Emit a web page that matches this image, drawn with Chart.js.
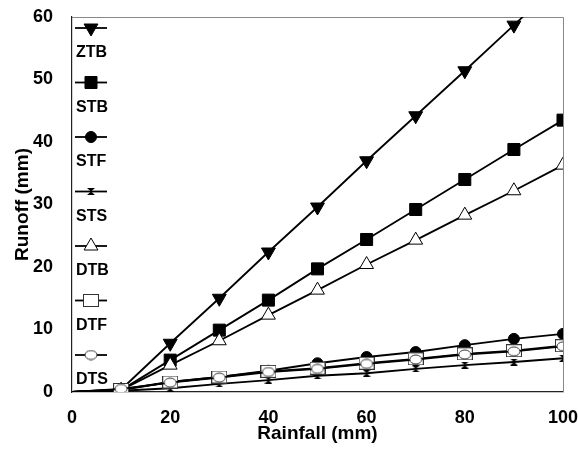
<!DOCTYPE html>
<html lang="en">
  <head>
    <meta charset="UTF-8" />
    <title>Runoff vs Rainfall</title>
    <style>
      html, body { margin: 0; padding: 0; background: #fff; }
      #wrap { width: 578px; height: 452px; }
    </style>
  </head>
  <body>
    <div id="wrap"><canvas id="myChart" width="578" height="452"></canvas></div>
    <script src="https://cdn.jsdelivr.net/npm/chart.js"></script>
    <script>
      // rainfall (mm); first point is the origin, drawn without a marker
      const rainfall = [0, 10, 20, 30, 40, 50, 60, 70, 80, 90, 100];
      const seriesNames = ["ZTB", "STB", "STF", "STS", "DTB", "DTF", "DTS"];
      const ztb = [0, 0.4, 7.8, 15.0, 22.4, 29.6, 37.0, 44.2, 51.4, 58.7, 66.0];
      const stb = [0, 0.3, 5.1, 9.9, 14.7, 19.7, 24.4, 29.2, 34.0, 38.8, 43.5];
      const stf = [0, 0.3, 1.6, 2.4, 3.4, 4.6, 5.6, 6.4, 7.5, 8.5, 9.3];
      const sts = [0, 0.2, 0.6, 1.3, 1.9, 2.6, 3.0, 3.7, 4.3, 4.8, 5.4];
      const dtb = [0, 0.3, 4.3, 8.2, 12.3, 16.3, 20.4, 24.3, 28.3, 32.2, 36.3];
      const dtf = [0, 0.4, 1.6, 2.4, 3.3, 3.8, 4.6, 5.3, 6.1, 6.6, 7.4];
      const dts = [0, 0.5, 1.5, 2.3, 3.2, 3.7, 4.5, 5.2, 6.0, 6.5, 7.3];
      const xTicks = [0, 20, 40, 60, 80, 100];
      const yTicks = [0, 10, 20, 30, 40, 50, 60];

      const ctx = document.getElementById("myChart").getContext("2d");
      const FONT = "'Liberation Sans', Arial, sans-serif";

      // small offscreen canvases for the markers chart.js has no shape for
      const makeMarker = (w, h, draw) => {
        const c = document.createElement("canvas");
        c.width = w;
        c.height = h;
        draw(c.getContext("2d"), w, h);
        return c;
      };
      const hourglass = makeMarker(8, 7, (g, w, h) => {
        g.fillStyle = "#000";
        g.beginPath();
        g.moveTo(0, 0);
        g.lineTo(w, 0);
        g.lineTo(0, h);
        g.lineTo(w, h);
        g.closePath();
        g.fill();
      });
      const openBox = makeMarker(16, 13, (g, w, h) => {
        g.fillStyle = "#fff";
        g.fillRect(0, 0, w, h);
        g.strokeStyle = "#333";
        g.lineWidth = 1;
        g.strokeRect(0.5, 0.5, w - 1, h - 1);
      });
      const openOval = makeMarker(14, 11, (g, w, h) => {
        g.fillStyle = "#fff";
        g.strokeStyle = "#333";
        g.lineWidth = 1;
        g.beginPath();
        g.ellipse(w / 2, h / 2, w / 2 - 1, h / 2 - 1, 0, 0, Math.PI * 2);
        g.fill();
        g.stroke();
      });

      // marker look per series
      const markers = [
        { style: "triangle", rotation: 180, radius: 8, fill: "#000" },
        { style: "rect", rotation: 0, radius: 8.5, fill: "#000" },
        { style: "circle", rotation: 0, radius: 5.5, fill: "#000" },
        { style: hourglass, rotation: 0, radius: 4, fill: "#000" },
        { style: "triangle", rotation: 0, radius: 8, fill: "#fff" },
        { style: openBox, rotation: 0, radius: 7, fill: "#fff" },
        { style: openOval, rotation: 0, radius: 6, fill: "#fff" },
      ];
      const values = [ztb, stb, stf, sts, dtb, dtf, dts];

      const datasets = seriesNames.map((name, i) => {
        const m = markers[i];
        return {
          label: name,
          data: rainfall.map((x, j) => ({ x: x, y: values[i][j] })),
          borderColor: "#000",
          borderWidth: 1.8,
          pointStyle: m.style,
          rotation: m.rotation,
          pointRadius: rainfall.map((x) => (x === 0 ? 0 : m.radius)),
          pointBackgroundColor: m.fill,
          pointBorderColor: "#000",
          pointBorderWidth: 1,
          tension: 0,
          order: 7 - i,
        };
      });

      // thin frame on top and right of the plot
      const framePlugin = {
        id: "frame",
        beforeDatasetsDraw(chart) {
          const { ctx, chartArea: a } = chart;
          ctx.save();
          ctx.strokeStyle = "#888";
          ctx.lineWidth = 1;
          ctx.beginPath();
          ctx.moveTo(a.left, a.top + 0.5);
          ctx.lineTo(a.right + 0.5, a.top + 0.5);
          ctx.lineTo(a.right + 0.5, a.bottom);
          ctx.stroke();
          ctx.restore();
        },
      };

      // legend stacked inside the plot, marker row then label row
      const legendPlugin = {
        id: "insideLegend",
        afterDraw(chart) {
          const { ctx, chartArea: a } = chart;
          ctx.save();
          chart.data.datasets.forEach((ds, i) => {
            const m = markers[i];
            const y = a.top + 11 + i * 54.5;
            ctx.strokeStyle = "#000";
            ctx.lineWidth = 1.8;
            ctx.beginPath();
            ctx.moveTo(a.left + 3, y);
            ctx.lineTo(a.left + 35, y);
            ctx.stroke();
            ctx.fillStyle = m.fill;
            ctx.lineWidth = 1;
            Chart.helpers.drawPoint(ctx, {
              pointStyle: m.style,
              rotation: m.rotation,
              radius: m.radius,
              borderWidth: 1,
            }, a.left + 19, y);
            ctx.fillStyle = "#000";
            ctx.font = "bold 16px " + FONT;
            ctx.textBaseline = "middle";
            ctx.fillText(ds.label, a.left + 4, y + 25);
          });
          ctx.restore();
        },
      };

      new Chart(ctx, {
        type: "line",
        data: { datasets: datasets },
        plugins: [framePlugin, legendPlugin],
        options: {
          responsive: false,
          animation: false,
          layout: { padding: { top: 17, right: 15, left: 0, bottom: 0 } },
          plugins: {
            legend: { display: false },
            tooltip: { enabled: false },
          },
          scales: {
            x: {
              type: "linear",
              min: 0,
              max: 100,
              afterBuildTicks: (s) => { s.ticks = xTicks.map((v) => ({ value: v })); },
              afterFit: (s) => {
                s.height = 60;
                s.paddingLeft = 0;
                s.paddingRight = 0;
              },
              grid: { display: false, drawTicks: true, tickLength: 5, tickColor: "#555" },
              border: { color: "#222", width: 1.2 },
              ticks: {
                color: "#000",
                padding: 10,
                font: { family: FONT, size: 18, weight: "bold" },
              },
              title: {
                display: true,
                text: "Rainfall (mm)",
                color: "#000",
                padding: { top: 0, bottom: 7 },
                font: { family: FONT, size: 19, weight: "bold" },
              },
            },
            y: {
              min: 0,
              max: 60,
              afterBuildTicks: (s) => { s.ticks = yTicks.map((v) => ({ value: v })); },
              afterFit: (s) => {
                s.width = 72;
                s.paddingTop = 0;
                s.paddingBottom = 0;
              },
              grid: { display: false, drawTicks: true, tickLength: 8, tickColor: "#555" },
              border: { color: "#222", width: 1.2 },
              ticks: {
                color: "#000",
                padding: 11,
                font: { family: FONT, size: 18, weight: "bold" },
              },
              title: {
                display: true,
                text: "Runoff (mm)",
                color: "#000",
                padding: { top: 11, bottom: 0 },
                font: { family: FONT, size: 19, weight: "bold" },
              },
            },
          },
        },
      });
    </script>
  </body>
</html>
